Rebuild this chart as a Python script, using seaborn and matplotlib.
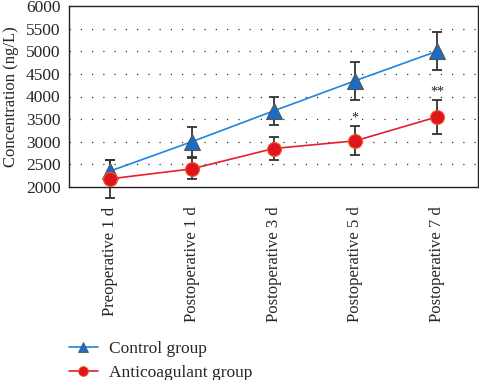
import matplotlib
matplotlib.use("Agg")
import matplotlib.pyplot as plt
import seaborn as sns
import pandas as pd
import numpy as np
from matplotlib.lines import Line2D

categories = ["Preoperative 1 d", "Postoperative 1 d", "Postoperative 3 d",
              "Postoperative 5 d", "Postoperative 7 d"]
control_mean = [2350, 3000, 3680, 4350, 5000]
control_err = [240, 330, 300, 420, 420]
anti_mean = [2180, 2400, 2850, 3020, 3550]
anti_err = [420, 230, 260, 320, 370]
stars = ["", "", "", "*", "**"]

sns.set_theme(style="white")
plt.rcParams['font.family'] = ['Liberation Serif', 'DejaVu Serif']

fig = plt.figure(figsize=(4.79, 3.80), dpi=100)
ax = fig.add_axes([69/479, 1-187/380, 409/479, 181/380])

pos = np.arange(len(categories))
df = pd.DataFrame({
    "pos": np.concatenate([pos, pos]),
    "value": control_mean + anti_mean,
    "group": ["Control group"]*5 + ["Anticoagulant group"]*5,
})

blue_line = "#1f86e0"
blue_mk = "#1a6cc4"
red_line = "#e3202c"
red_mk = "#e0141c"

# error bars
for m, e in ((control_mean, control_err), (anti_mean, anti_err)):
    eb = ax.errorbar(pos, m, yerr=e, fmt='none', ecolor="#333333",
                     elinewidth=1.3, capsize=3.5, capthick=1.3, zorder=2)
    for art in eb.get_children():
        art.set_clip_on(False)

sns.lineplot(data=df[df.group == "Control group"], x="pos", y="value", ax=ax,
             color=blue_line, linewidth=1.2, marker="^", markersize=11,
             markerfacecolor=blue_mk, markeredgecolor="#555555",
             markeredgewidth=0.8, legend=False, zorder=3)
sns.lineplot(data=df[df.group == "Anticoagulant group"], x="pos", y="value", ax=ax,
             color=red_line, linewidth=1.2, marker="o", markersize=10,
             markerfacecolor=red_mk, markeredgecolor="#f05a28",
             markeredgewidth=0.8, legend=False, zorder=3)

for i, s in enumerate(stars):
    if s:
        ax.text(pos[i], anti_mean[i] + anti_err[i] + 40, s, ha="center",
                va="bottom", fontsize=10, color="#222222")

ax.set_xlim(-0.5, 4.5)
ax.set_ylim(2000, 6000)
ax.set_yticks(np.arange(2000, 6001, 500))
ax.set_xticks(pos)
ax.set_xticklabels(categories, rotation=90, fontsize=12)
ax.tick_params(axis='x', length=0, pad=14)
ax.tick_params(axis='y', length=0, pad=6, labelsize=12.5)
ax.set_xlabel("")
ax.set_ylabel("Concentration (ng/L)", fontsize=12, labelpad=5)

for y in range(2500, 6000, 500):
    ax.axhline(y, color="#333333", linestyle=(0, (1, 8)), linewidth=0.9, zorder=1)

for sp in ax.spines.values():
    sp.set_color("#222222")
    sp.set_linewidth(1.0)

handles = [
    Line2D([], [], color=blue_line, marker="^", markersize=7,
           markerfacecolor=blue_mk, markeredgecolor="#555555", markeredgewidth=0.6,
           linewidth=1.2),
    Line2D([], [], color=red_line, marker="o", markersize=7,
           markerfacecolor=red_mk, markeredgecolor="#f05a28", markeredgewidth=0.6,
           linewidth=1.2),
]
fig.legend(handles, ["Control group", "Anticoagulant group"],
           loc="upper left", bbox_to_anchor=(53/479, 1-325/380), frameon=False,
           fontsize=12.5, handlelength=1.7, handletextpad=0.6, labelspacing=0.45)

fig.savefig("out.png", dpi=100)
